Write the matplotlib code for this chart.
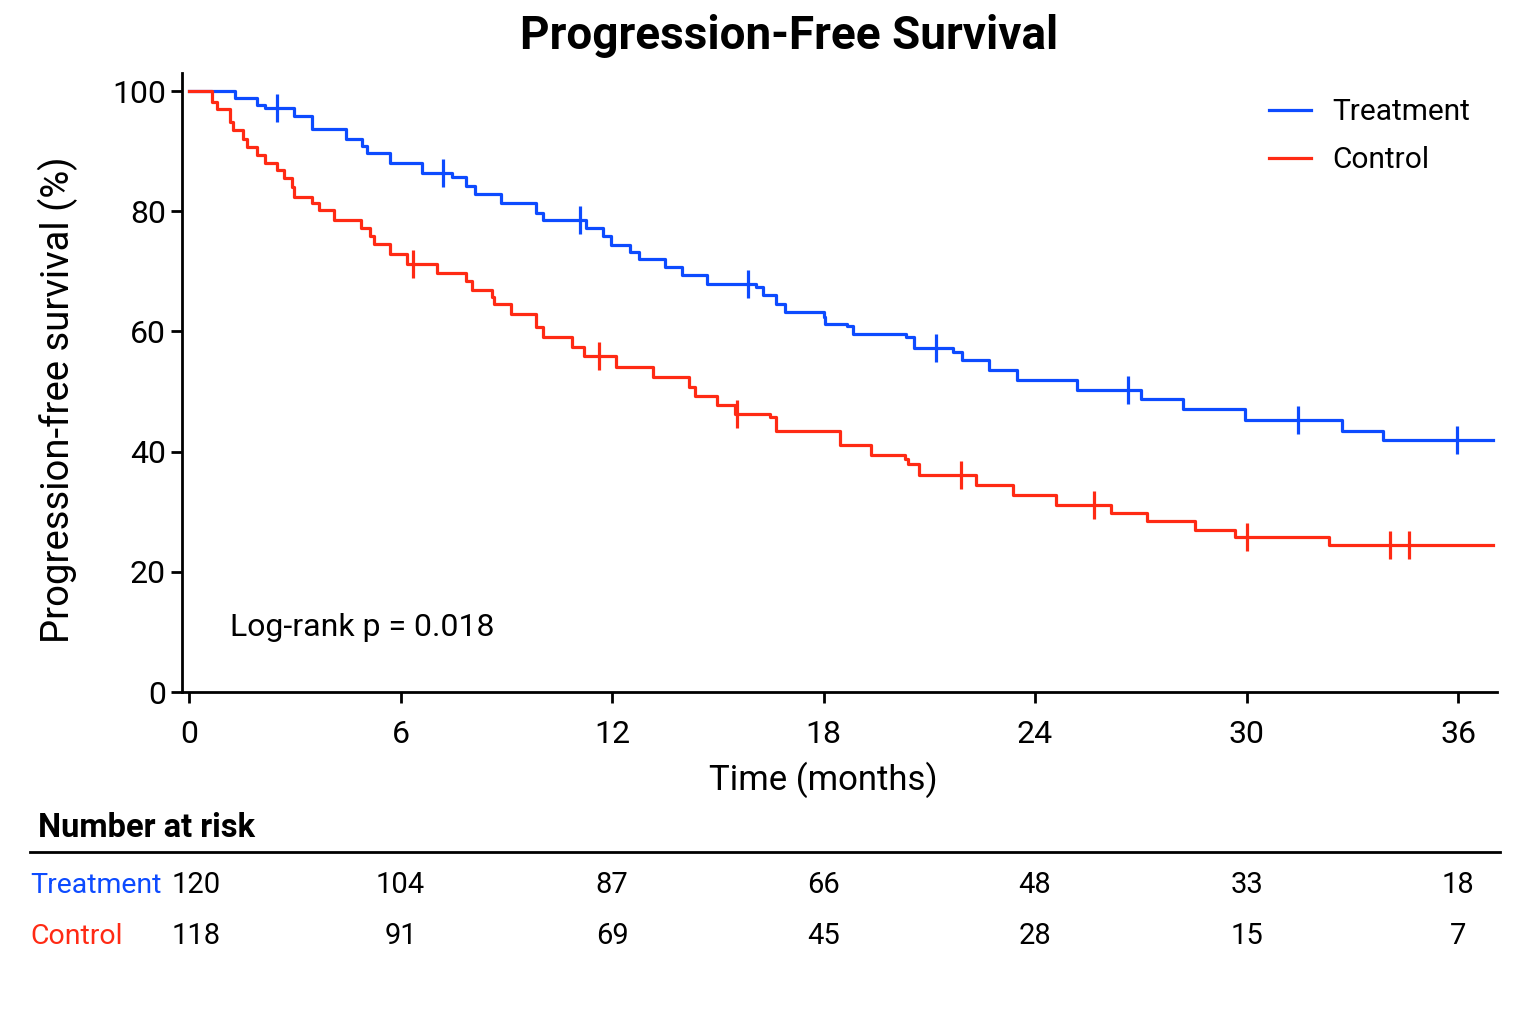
import numpy as np
import matplotlib
matplotlib.use("Agg")
import matplotlib.pyplot as plt
import matplotlib.transforms as mtransforms

plt.rcParams["font.family"] = ["Roboto", "DejaVu Sans"]

BLUE = "#0d4bff"
RED = "#ff2a14"

# Kaplan-Meier steps (time in months, survival in %)
trt_time = [0, 1.3, 1.93, 2.16, 2.98, 3.5, 4.44, 4.9, 5.05, 5.7, 6.6, 7.45, 7.86, 8.1,
            8.84, 9.84, 10.04, 11.26, 11.73, 11.96, 12.5, 12.77, 13.5, 13.98, 14.7,
            16.08, 16.27, 16.65, 16.9, 18.0, 18.05, 18.66, 18.84, 20.34, 20.57, 21.67,
            21.92, 22.7, 23.5, 25.18, 27.0, 28.2, 29.96, 32.7, 33.87, 37.0]
trt_surv = [100, 98.8, 97.7, 97.1, 95.8, 93.7, 92.1, 90.8, 89.7, 88.1, 86.4, 85.7, 84.2, 82.9,
            81.3, 79.7, 78.5, 77.2, 75.8, 74.4, 73.3, 72.0, 70.7, 69.4, 67.9,
            67.4, 66.1, 64.6, 63.2, 62.4, 61.3, 60.9, 59.6, 59.0, 57.3, 56.5,
            55.2, 53.6, 51.9, 50.2, 48.8, 47.1, 45.3, 43.4, 41.9, 41.9]
trt_censor = [2.5, 7.2, 11.1, 15.85, 21.18, 26.64, 31.45, 35.96]

ctl_time = [0, 0.64, 0.78, 1.16, 1.24, 1.52, 1.65, 1.94, 2.14, 2.5, 2.68, 2.91, 2.98, 3.48,
            3.69, 4.11, 4.87, 5.13, 5.25, 5.7, 6.19, 7.03, 7.86, 8.02, 8.59, 8.64, 9.12,
            9.84, 10.05, 10.86, 11.2, 12.11, 13.17, 14.17, 14.34, 14.99, 15.5, 16.48,
            16.65, 18.47, 19.34, 20.31, 20.4, 20.72, 22.32, 23.36, 24.59, 26.15, 27.17,
            28.54, 29.67, 32.35, 37.0]
ctl_surv = [100, 98.1, 97.0, 94.9, 93.5, 92.1, 90.7, 89.3, 88.1, 86.9, 85.6, 84.0, 82.3, 81.4,
            80.2, 78.5, 77.2, 75.9, 74.5, 72.9, 71.3, 69.7, 68.4, 66.9, 65.8, 64.6, 62.9,
            60.8, 59.1, 57.4, 55.9, 54.1, 52.4, 50.8, 49.3, 47.8, 46.2, 45.7,
            43.5, 41.1, 39.4, 38.7, 37.9, 36.1, 34.4, 32.7, 31.1, 29.8, 28.5,
            27.0, 25.8, 24.5, 24.5]
ctl_censor = [6.36, 11.64, 15.55, 21.9, 25.68, 30.0, 34.07, 34.6]

risk_times = [0, 6, 12, 18, 24, 30, 36]
risk_trt = [120, 104, 87, 66, 48, 33, 18]
risk_ctl = [118, 91, 69, 45, 28, 15, 7]


def surv_at(times, surv, t):
    idx = np.searchsorted(times, t, side="right") - 1
    return surv[idx]


fig = plt.figure(figsize=(15.36, 10.24), dpi=100)
ax = fig.add_axes([0.1185, 0.3242, 0.856, 0.6045])

ax.step(trt_time, trt_surv, where="post", color=BLUE, lw=2.3, label="Treatment")
ax.step(ctl_time, ctl_surv, where="post", color=RED, lw=2.3, label="Control")
ax.plot(trt_censor, [surv_at(trt_time, trt_surv, t) for t in trt_censor], ls="none",
        marker="|", ms=20, mew=2.3, color=BLUE)
ax.plot(ctl_censor, [surv_at(ctl_time, ctl_surv, t) for t in ctl_censor], ls="none",
        marker="|", ms=20, mew=2.3, color=RED)

ax.set_xlim(-0.2, 37.1)
ax.set_ylim(0, 103)
ax.set_xticks(risk_times)
ax.set_yticks([0, 20, 40, 60, 80, 100])
ax.tick_params(labelsize=23, width=2, length=8)
ax.tick_params(axis="x", pad=12)
for s in ["top", "right"]:
    ax.spines[s].set_visible(False)
for s in ["left", "bottom"]:
    ax.spines[s].set_linewidth(2)

ax.set_xlabel("Time (months)", fontsize=25)
ax.xaxis.set_label_coords(0.488, -0.113)
ax.set_ylabel("Progression-free survival (%)", fontsize=27.5)
ax.yaxis.set_label_coords(-0.079, 0.472)
fig.text(0.514, 0.965, "Progression-Free Survival", fontsize=33, fontweight="bold",
         ha="center", va="center")
ax.text(1.15, 10.8, "Log-rank p = 0.018", fontsize=23, va="center")

leg = ax.legend(loc="upper right", frameon=False, fontsize=21.5, handlelength=1.4,
                handletextpad=0.7, bbox_to_anchor=(1.0, 1.003), labelspacing=0.68)

# number at risk table
fig.text(0.0247, 0.1914, "Number at risk", fontsize=23.5, fontweight="bold", va="center")
fig.add_artist(plt.Line2D([0.0195, 0.9766], [0.168, 0.168], color="black", lw=2))
trans = mtransforms.blended_transform_factory(ax.transData, fig.transFigure)
for name, row, y, c in [("Treatment", risk_trt, 0.1357, BLUE), ("Control", risk_ctl, 0.0859, RED)]:
    fig.text(0.0195, y, name, fontsize=20.5, color=c, va="center")
    for t, n in zip(risk_times, row):
        ax.text(t + (0.2 if t == 0 else 0), y, str(n), transform=trans, fontsize=21,
                ha="center", va="center", clip_on=False)

fig.savefig("out.png", dpi=100)
